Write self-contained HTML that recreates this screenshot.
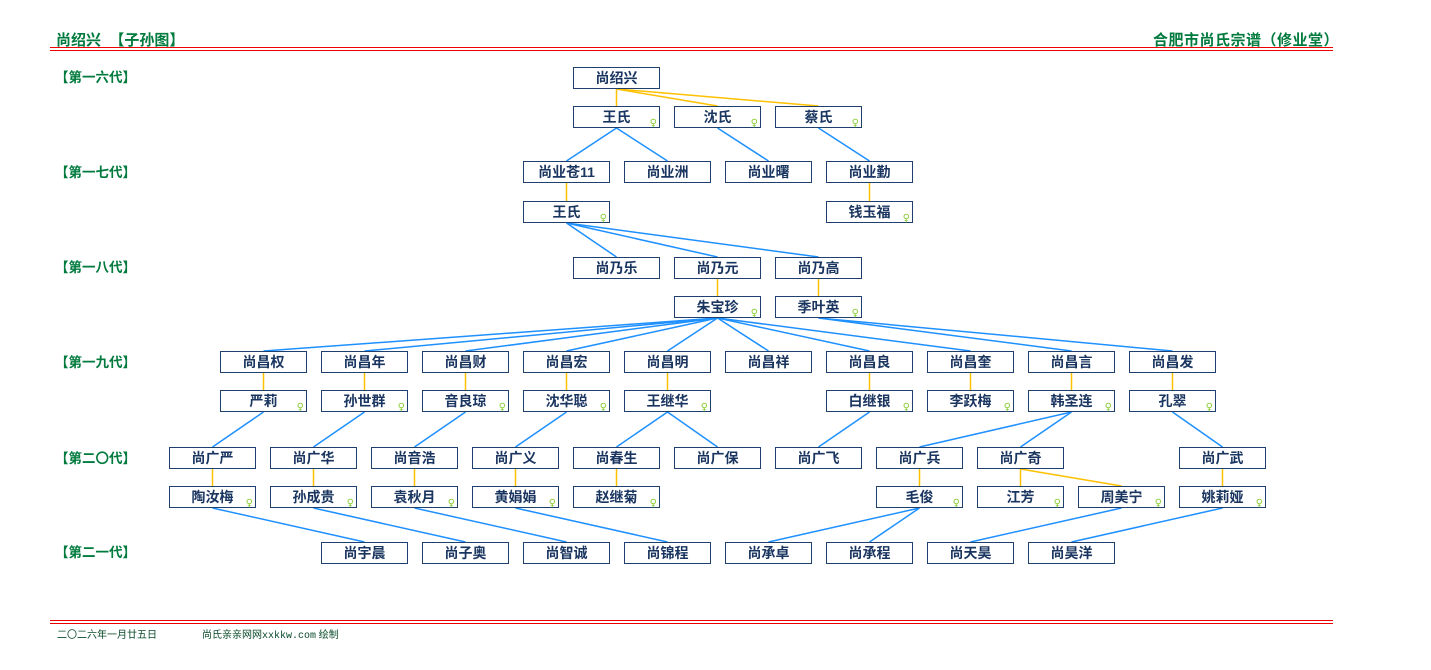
<!DOCTYPE html>
<html><head><meta charset="utf-8"><style>
body{margin:0;width:1431px;height:670px;background:#fff;position:relative;overflow:hidden;font-family:"Liberation Sans","Noto Sans CJK SC","WenQuanYi Zen Hei",sans-serif}
.t{position:absolute;color:#007a3d;font-weight:bold;font-size:15px;white-space:nowrap}
.g{position:absolute;left:55px;color:#007a3d;font-weight:bold;font-size:13.5px;white-space:nowrap}
.r{position:absolute;left:50px;width:1283px;height:1px;background:#e00}
.n{position:absolute;width:85px;height:20px;border:1px solid #1f3f6f;background:#fff;color:#1a3560;font-weight:bold;font-size:14px;line-height:20px;text-align:center;white-space:nowrap}
.n i{position:absolute;right:2px;bottom:-2px;font-style:normal;font-size:10px;line-height:10px;color:#8c3;font-weight:normal;font-family:"DejaVu Sans",sans-serif}
svg{position:absolute;left:0;top:0}
.f{position:absolute;top:626px;font-size:10px;color:#0a4a2a;white-space:nowrap}
</style></head><body>
<div class="t" style="left:56px;top:29px">尚绍兴 &nbsp;【子孙图】</div>
<div class="t" style="left:1153px;top:29px;letter-spacing:0.5px">合肥市尚氏宗谱（修业堂）</div>
<div class="r" style="top:47px"></div><div class="r" style="top:50px"></div>
<div class="r" style="top:620px"></div><div class="r" style="top:623px"></div>
<div class="f" style="left:57px">二〇二六年一月廿五日</div>
<div class="f" style="left:202px">尚氏亲亲网网<span style="font-family:'Liberation Mono',monospace">xxkkw.com</span> 绘制</div>
<div class="g" style="top:66px">【第一六代】</div>
<div class="g" style="top:161px">【第一七代】</div>
<div class="g" style="top:256px">【第一八代】</div>
<div class="g" style="top:351px">【第一九代】</div>
<div class="g" style="top:447px">【第二〇代】</div>
<div class="g" style="top:541px">【第二一代】</div>
<svg id="s" width="1431" height="670"></svg>
<div id="c"></div>
<script>
var R=[67,106,161,201,257,296,351,390,447,486,542];
var N={},h='',L='';
function n(id,name,k,r,f){var x=Math.floor(169.5+50.5*k),y=R[r];N[id]=[x+43.5,y,y+22];
h+='<div class="n" style="left:'+x+'px;top:'+y+'px">'+name+(f?'<i>♀</i>':'')+'</div>';}
function l(a,b,c){L+='<line x1="'+N[a][0]+'" y1="'+N[a][2]+'" x2="'+N[b][0]+'" y2="'+N[b][1]+'" stroke="'+(c?'#ffc000':'#1e90ff')+'" stroke-width="1.5"/>';}
n('a','尚绍兴',8,0);n('w1','王氏',8,1,1);n('s1','沈氏',10,1,1);n('c1','蔡氏',12,1,1);
l('a','w1',1);l('a','s1',1);l('a','c1',1);
n('b1','尚业苍11',7,2);n('b2','尚业洲',9,2);n('b3','尚业曙',11,2);n('b4','尚业勤',13,2);
l('w1','b1');l('w1','b2');l('s1','b3');l('c1','b4');
n('w2','王氏',7,3,1);n('q','钱玉福',13,3,1);l('b1','w2',1);l('b4','q',1);
n('c2','尚乃乐',8,4);n('c3','尚乃元',10,4);n('c4','尚乃高',12,4);
l('w2','c2');l('w2','c3');l('w2','c4');
n('z','朱宝珍',10,5,1);n('j','季叶英',12,5,1);l('c3','z',1);l('c4','j',1);
var d=['权','年','财','宏','明','祥','良','奎','言','发'];
for(var i=0;i<10;i++){n('d'+i,'尚昌'+d[i],1+2*i,6);l(i<8?'z':'j','d'+i);}
var sp=[['严莉',0],['孙世群',1],['音良琼',2],['沈华聪',3],['王继华',4],['白继银',6],['李跃梅',7],['韩圣连',8],['孔翠',9]];
sp.forEach(function(s){n('p'+s[1],s[0],1+2*s[1],7,1);l('d'+s[1],'p'+s[1],1);});
var e=[['尚广严',0,0],['尚广华',2,1],['尚音浩',4,2],['尚广义',6,3],['尚春生',8,4],['尚广保',10,4],['尚广飞',12,6],['尚广兵',14,8],['尚广奇',16,8],['尚广武',20,9]];
e.forEach(function(s){n('e'+s[1],s[0],s[1],8);l('p'+s[2],'e'+s[1]);});
var f=[['陶汝梅',0,0],['孙成贵',2,2],['袁秋月',4,4],['黄娟娟',6,6],['赵继菊',8,8],['毛俊',14,14],['江芳',16,16],['周美宁',18,16],['姚莉娅',20,20]];
f.forEach(function(s){n('f'+s[1],s[0],s[1],9,1);l('e'+s[2],'f'+s[1],1);});
var g=[['尚宇晨',3,0],['尚子奥',5,2],['尚智诚',7,4],['尚锦程',9,6],['尚承卓',11,14],['尚承程',13,14],['尚天昊',15,18],['尚昊洋',17,20]];
g.forEach(function(s){n('g'+s[1],s[0],s[1],10);l('f'+s[2],'g'+s[1]);});
document.getElementById('s').innerHTML=L;document.getElementById('c').innerHTML=h;
</script>
</body></html>
